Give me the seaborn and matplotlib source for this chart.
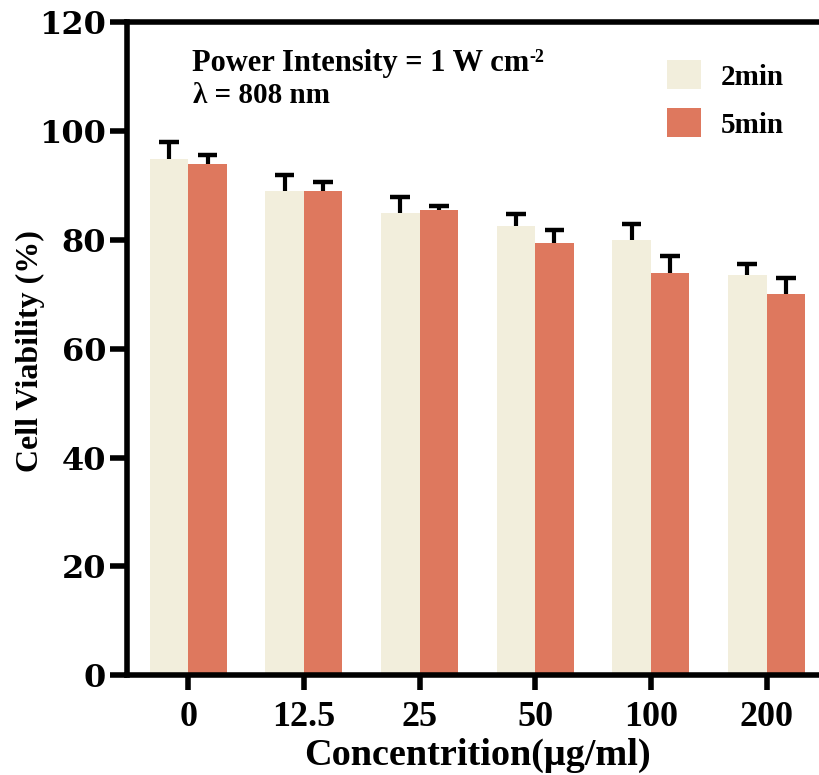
import numpy as np
import pandas as pd
import matplotlib
matplotlib.use("Agg")
import matplotlib.pyplot as plt
import seaborn as sns
from matplotlib.patches import Patch

# ----------------------------
# Data
# ----------------------------
concentrations = ["0", "12.5", "25", "50", "100", "200"]
viability_2min = [94.9, 89.0, 84.9, 82.5, 80.0, 73.5]
viability_5min = [94.0, 89.0, 85.5, 79.4, 74.0, 70.0]
err_2min = [3.1, 2.9, 3.0, 2.2, 3.0, 2.1]
err_5min = [1.7, 1.6, 0.7, 2.4, 3.0, 3.0]
groups = ["2min", "5min"]
colors = ["#F2EEDC", "#DE785E"]

df = pd.DataFrame({
    "Concentration": concentrations * 2,
    "Viability": viability_2min + viability_5min,
    "Time": [groups[0]] * 6 + [groups[1]] * 6,
})

sns.set_style("white")
plt.rcParams["font.family"] = ["Liberation Serif", "DejaVu Serif"]
plt.rcParams["font.weight"] = "bold"
plt.rcParams["text.color"] = "black"
plt.rcParams["axes.labelcolor"] = "black"
plt.rcParams["xtick.color"] = "black"
plt.rcParams["ytick.color"] = "black"

fig = plt.figure(figsize=(8.19, 7.75), dpi=100)
ax = fig.add_axes([0.155, 0.129, 0.86, 0.842])

sns.barplot(data=df, x="Concentration", y="Viability", hue="Time",
            palette=colors, width=0.667, errorbar=None, saturation=1,
            linewidth=0, ax=ax, legend=False)

# ----------------------------
# Upper error bars (stem + cap)
# ----------------------------
errs = err_2min + err_5min
vals = viability_2min + viability_5min
bars = [p for p in ax.patches if p.get_height() > 0]
for p, v, e in zip(bars, vals, errs):
    xc = p.get_x() + p.get_width() / 2
    ax.vlines(xc, v, v + e, color="black", linewidth=3, zorder=3)
    ax.hlines(v + e, xc - 0.085, xc + 0.085, color="black", linewidth=3.2, zorder=3)

ax.set_ylim(0, 120)
ax.set_xlim(-0.53, 5.56)
ax.set_yticks([0, 20, 40, 60, 80, 100, 120])

for side in ["left", "bottom", "top"]:
    ax.spines[side].set_linewidth(4)
    ax.spines[side].set_color("black")
ax.spines["right"].set_visible(False)

ax.tick_params(axis="y", direction="out", length=12, width=4,
               labelsize=23, pad=3, left=True)
ax.tick_params(axis="x", direction="out", length=11, width=4,
               labelsize=26, pad=8, bottom=True)
for lab in ax.get_yticklabels():
    lab.set_fontfamily("DejaVu Serif")
    lab.set_fontweight("bold")
for lab in ax.get_xticklabels():
    lab.set_fontweight("bold")

ax.set_xlabel("Concentrition(μg/ml)", fontsize=27.5, fontweight="bold")
ax.xaxis.set_label_coords(0.497, -0.097)
ax.set_ylabel("Cell Viability (%)", fontsize=23, fontweight="bold")
ax.yaxis.set_label_coords(-0.116, 0.497)

# ----------------------------
# Annotations and legend
# ----------------------------
t1 = ax.text(0.092, 0.925, "Power Intensity = 1 W cm", transform=ax.transAxes,
             fontsize=22, fontweight="bold", va="baseline", ha="left")
ax.annotate("-2", xy=(1, 0), xycoords=t1, xytext=(0.5, 12), textcoords="offset points",
            fontsize=13, fontweight="bold", va="baseline", ha="left")
ax.text(0.094, 0.877, "λ = 808 nm", transform=ax.transAxes,
        fontsize=21, fontweight="bold", va="baseline", ha="left")

handles = [Patch(facecolor=c, edgecolor="none") for c in colors]
leg = ax.legend(handles, groups, loc="upper left", bbox_to_anchor=(0.767, 0.942),
                frameon=False, fontsize=21, handlelength=1.15, handleheight=1.15,
                labelspacing=0.6, handletextpad=0.7, borderpad=0, borderaxespad=0)
for t in leg.get_texts():
    t.set_fontweight("bold")

plt.savefig("out.png", dpi=100)
plt.close()
